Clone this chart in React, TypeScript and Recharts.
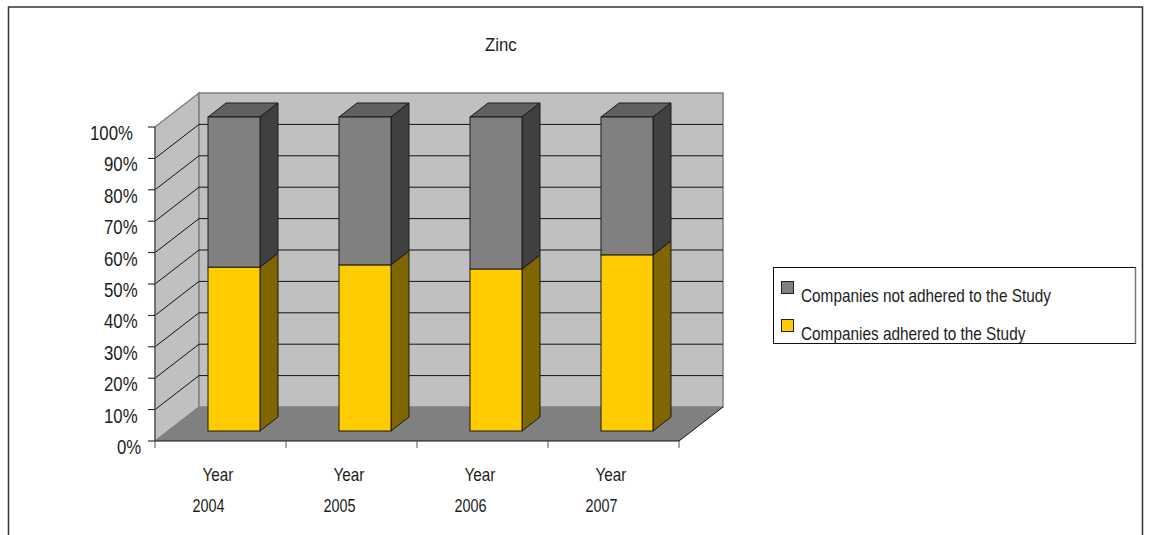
// Stacked 100% column chart with an extruded, box-style look.
import React from "react";
import {
  BarChart,
  Bar,
  XAxis,
  YAxis,
  CartesianGrid,
  Legend,
  ReferenceArea,
} from "recharts";

const categories = ["Year 2004", "Year 2005", "Year 2006", "Year 2007"];
const adhered = [52.2, 52.9, 51.6, 56.1];
const notAdhered = [47.8, 47.1, 48.4, 43.9];
const percentTicks = [0, 10, 20, 30, 40, 50, 60, 70, 80, 90, 100];

const rows = categories.map((name, i) => ({
  name,
  adhered: adhered[i],
  notAdhered: notAdhered[i],
}));

const FONT = '"Liberation Sans", Arial, sans-serif';
const INK = "#1c1c1c";
// wall depth of the plot box, and how far each column sits inside it
const DEPTH_X = 44;
const DEPTH_Y = 34;
const BAR_DX = 13;
const BAR_DY = 10;
const BAR_DEPTH_X = 18;
const BAR_DEPTH_Y = 14;

const shades: Record<string, { side: string; top: string }> = {
  "#ffcc00": { side: "#806600", top: "#a08000" },
  "#808080": { side: "#404040", top: "#606060" },
};

// narrow text: the glyphs are squeezed horizontally around the anchor point
const Squeezed = ({ x, y, size, sx, children }: any) => (
  <text
    transform={`translate(${x},${y}) scale(${sx},1)`}
    fontFamily={FONT}
    fontSize={size}
    fill={INK}
  >
    {children}
  </text>
);

const Column = ({ x, y, width, height, fill }: any) => {
  const left = x + BAR_DX;
  const right = left + width;
  const top = y - BAR_DY;
  const bottom = top + height;
  const { side, top: cap } = shades[fill];
  return (
    <g stroke="#1a1a1a" strokeWidth={1}>
      <polygon
        points={`${left},${top} ${left + BAR_DEPTH_X},${top - BAR_DEPTH_Y} ${right + BAR_DEPTH_X},${top - BAR_DEPTH_Y} ${right},${top}`}
        fill={cap}
      />
      <polygon
        points={`${right},${top} ${right + BAR_DEPTH_X},${top - BAR_DEPTH_Y} ${right + BAR_DEPTH_X},${bottom - BAR_DEPTH_Y} ${right},${bottom}`}
        fill={side}
      />
      <rect x={left} y={top} width={width} height={height} fill={fill} />
    </g>
  );
};

// side wall, back wall and floor of the box
const Walls = ({ x, y, width, height }: any) => {
  const bottom = y + height;
  return (
    <g>
      <polygon
        points={`${x},${y} ${x + DEPTH_X},${y - DEPTH_Y} ${x + DEPTH_X},${bottom - DEPTH_Y} ${x},${bottom}`}
        fill="#c0c0c0"
        stroke="#808080"
        strokeWidth={1.5}
      />
      <rect
        x={x + DEPTH_X}
        y={y - DEPTH_Y}
        width={width}
        height={height}
        fill="#c0c0c0"
        stroke="#808080"
        strokeWidth={1.5}
      />
    </g>
  );
};

// one grid line bends from the side wall onto the back wall; the zero line
// carries the floor, which has to cover the lower part of the walls
const GridLine = ({ x1, x2, y1, index }: any) => {
  if (index === percentTicks.length - 1) return <g key={index} />;
  if (index === 0) {
    return (
      <g key={index}>
        <polygon
          points={`${x1},${y1} ${x1 + DEPTH_X},${y1 - DEPTH_Y} ${x2 + DEPTH_X},${y1 - DEPTH_Y} ${x2},${y1}`}
          fill="#808080"
        />
        <line x1={x2} y1={y1} x2={x2 + DEPTH_X} y2={y1 - DEPTH_Y} stroke="#111" />
      </g>
    );
  }
  return (
    <polyline
      key={index}
      points={`${x1},${y1} ${x1 + DEPTH_X},${y1 - DEPTH_Y} ${x2 + DEPTH_X},${y1 - DEPTH_Y}`}
      fill="none"
      stroke="#111"
      strokeWidth={1}
    />
  );
};

const PercentTick = ({ y, payload }: any) => {
  const label = `${payload.value}%`;
  const widths: Record<number, number> = { 2: 24, 3: 33, 4: 43 };
  const rightEdge = 149 - 4 * label.length;
  return (
    <Squeezed x={rightEdge - widths[label.length]} y={y + 13} size={20} sx={0.84}>
      {label}
    </Squeezed>
  );
};

const YearTick = ({ x, payload, index }: any) => {
  const [word, year] = String(payload.value).split(" ");
  const half = payload.offset ?? 65.5;
  const top = 441;
  return (
    <g>
      <line x1={x - half} y1={top} x2={x - half} y2={top + 7} stroke="#555" />
      {index === categories.length - 1 && (
        <line x1={x + half} y1={top} x2={x + half} y2={top + 7} stroke="#555" />
      )}
      <Squeezed x={x - 18} y={481} size={18} sx={0.85}>
        {word}
      </Squeezed>
      <Squeezed x={x - 28} y={512} size={18} sx={0.8}>
        {year}
      </Squeezed>
    </g>
  );
};

const LegendBox = ({ payload }: any) => {
  const items = [...(payload ?? [])].reverse();
  return (
    <svg width={364} height={78} style={{ display: "block", overflow: "visible" }}>
      <rect x={0.5} y={0.5} width={362} height={76} fill="#fff" stroke="#111" />
      <line x1={362.5} y1={0.5} x2={362.5} y2={76.5} stroke="#777" strokeWidth={1.5} />
      {items.map((item: any, i: number) => (
        <g key={item.value}>
          <rect
            x={8.5}
            y={14.5 + i * 38}
            width={12}
            height={12}
            fill={item.color}
            stroke="#222"
          />
          <Squeezed x={28} y={35 + i * 38} size={18} sx={0.853}>
            {item.value}
          </Squeezed>
        </g>
      ))}
    </svg>
  );
};

const App: React.FC = () => {
  return (
    <div style={{ position: "absolute", left: 0, top: 0, width: 1149, height: 535, background: "#fff", overflow: "hidden" }}>
      <BarChart
        width={1149}
        height={535}
        data={rows}
        barSize={52}
        barGap={0}
        margin={{ top: 127, right: 470, bottom: 34, left: 95 }}
      >
        <ReferenceArea y1={0} y2={100} shape={<Walls />} ifOverflow="visible" zIndex={-200} />
        <CartesianGrid vertical={false} horizontal={(p: any) => <GridLine {...p} />} />
        <XAxis
          dataKey="name"
          height={60}
          interval={0}
          tickLine={false}
          axisLine={{ stroke: "#111" }}
          tick={<YearTick />}
        />
        <YAxis
          type="number"
          domain={[0, 100]}
          ticks={percentTicks}
          interval={0}
          width={60}
          tickSize={7}
          tickLine={{ stroke: "#111" }}
          axisLine={{ stroke: "#666", strokeWidth: 1.5 }}
          tick={<PercentTick />}
        />
        <Bar
          dataKey="adhered"
          name="Companies adhered to the Study"
          stackId="share"
          fill="#ffcc00"
          shape={<Column />}
          isAnimationActive={false}
        />
        <Bar
          dataKey="notAdhered"
          name="Companies not adhered to the Study"
          stackId="share"
          fill="#808080"
          shape={<Column />}
          isAnimationActive={false}
        />
        <Legend
          content={<LegendBox />}
          itemSorter={null}
          align="center"
          verticalAlign="middle"
          wrapperStyle={{ left: 773, top: 267, width: 364, height: 78 }}
        />
        <Squeezed x={485} y={51} size={19} sx={0.88}>
          Zinc
        </Squeezed>
        <polyline
          points="8.5,535 8.5,7 1142.5,7 1142.5,535"
          fill="none"
          stroke="#333"
          strokeWidth={1.5}
        />
      </BarChart>
    </div>
  );
};

export default App;
